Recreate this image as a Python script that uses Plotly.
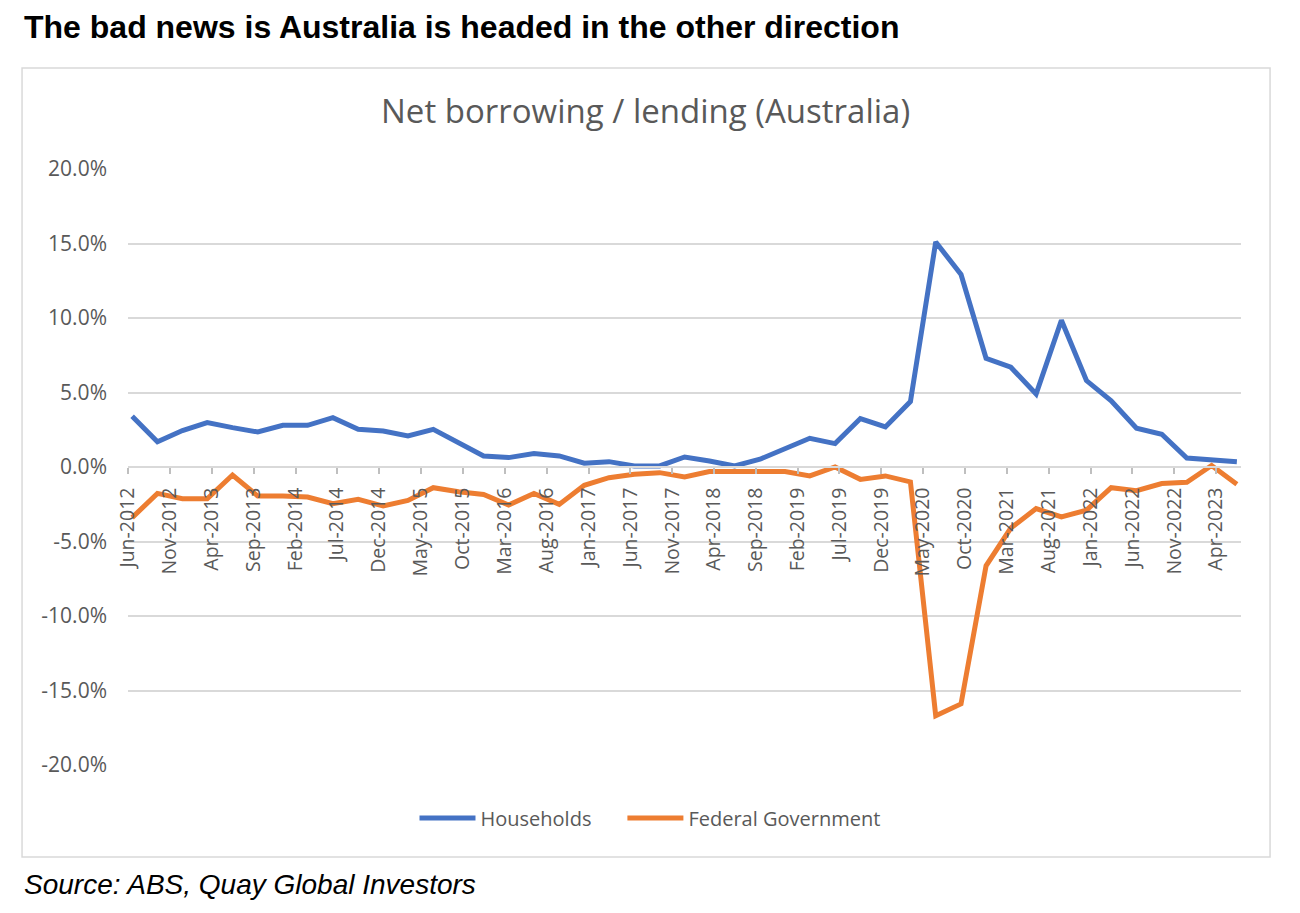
import pandas as pd
import plotly.graph_objects as go

# quarterly observations, Jun-2012 .. Jun-2023
quarters = [
    "2012-06", "2012-09", "2012-12",
    "2013-03", "2013-06", "2013-09", "2013-12",
    "2014-03", "2014-06", "2014-09", "2014-12",
    "2015-03", "2015-06", "2015-09", "2015-12",
    "2016-03", "2016-06", "2016-09", "2016-12",
    "2017-03", "2017-06", "2017-09", "2017-12",
    "2018-03", "2018-06", "2018-09", "2018-12",
    "2019-03", "2019-06", "2019-09", "2019-12",
    "2020-03", "2020-06", "2020-09", "2020-12",
    "2021-03", "2021-06", "2021-09", "2021-12",
    "2022-03", "2022-06", "2022-09", "2022-12",
    "2023-03", "2023-06",
]

households = [3.4, 1.7, 2.45, 2.98, 2.64, 2.35, 2.8, 2.8, 3.31, 2.53, 2.42, 2.08,
              2.53, 1.59, 0.74, 0.63, 0.9, 0.74, 0.25, 0.36, 0.07, 0.07, 0.67, 0.4,
              0.07, 0.52, 1.19, 1.93, 1.57, 3.25, 2.69, 4.39, 15.1, 12.92, 7.3, 6.7,
              4.9, 9.85, 5.8, 4.45, 2.6, 2.2, 0.6, 0.45, 0.35]

federal_gov = [-3.4, -1.77, -2.13, -2.13, -0.54, -1.95, -1.95, -2.02, -2.46, -2.17, -2.62, -2.24,
               -1.39, -1.66, -1.84, -2.55, -1.77, -2.51, -1.23, -0.72, -0.49, -0.38, -0.67, -0.31,
               -0.31, -0.31, -0.31, -0.6, 0.0, -0.83, -0.6, -1.0, -16.7, -15.9, -6.63, -4.1,
               -2.79, -3.35, -2.9, -1.39, -1.59, -1.11, -1.02, 0.1, -1.16]

y_ticks = [-20, -15, -10, -5, 0, 5, 10, 15, 20]
y_labels = ["-20.0%", "-15.0%", "-10.0%", "-5.0%", "0.0%", "5.0%", "10.0%", "15.0%", "20.0%"]

# points sit mid-month, like Excel's date axis
x = pd.to_datetime(quarters) + pd.Timedelta(days=15)

grey = "#595959"
font = "Open Sans"
pad = "\u00a0" * 5  # extra room between the two legend entries

fig = go.Figure()
fig.add_trace(go.Scatter(x=x, y=households, mode="lines", name="Households" + pad,
                         line=dict(color="#4472C4", width=5)))
fig.add_trace(go.Scatter(x=x, y=federal_gov, mode="lines", name="Federal Government",
                         line=dict(color="#ED7D31", width=5)))

# page body has an 8px margin, so the figure is a bit smaller than the window
fig.update_layout(
    width=1292, height=905,
    margin=dict(l=120, r=59, t=161, b=148),
    paper_bgcolor="white", plot_bgcolor="white",
    font=dict(family=font, color=grey, size=20),
    showlegend=True,
    legend=dict(orientation="h", x=0.469, xanchor="center", y=-0.089, yanchor="middle",
                font=dict(size=20, color=grey), itemwidth=56),
    xaxis=dict(
        type="date",
        range=["2012-06-01", "2023-07-01"],
        tick0="2012-06-01", dtick="M5", tickformat="%b-%Y",
        tickangle=-90, ticks="outside", ticklen=6, tickcolor="#bfbfbf", tickwidth=1.5,
        showline=True, linecolor="#d9d9d9", linewidth=1.5,
        showgrid=False, zeroline=False,
        anchor="free", position=0.5,
        ticklabelstandoff=6,
        tickfont=dict(size=19.5, color=grey),
    ),
    yaxis=dict(
        range=[-20, 20], tickvals=y_ticks, ticktext=y_labels,
        showgrid=True, gridcolor="#d9d9d9", gridwidth=1.5,
        zeroline=False, showline=False, ticks="",
        ticklabelstandoff=20,
        tickfont=dict(size=21, color=grey),
    ),
)

# outer chart frame
fig.add_shape(type="rect", xref="paper", yref="paper",
              x0=-0.0952, x1=1.0261, y0=-0.1544, y1=1.1695,
              line=dict(color="#d9d9d9", width=1.5), layer="below")

fig.add_annotation(text="Net borrowing / lending (Australia)", xref="paper", yref="paper",
                   x=0.465, y=1.098, xanchor="center", yanchor="middle", showarrow=False,
                   font=dict(family=font, size=33, color=grey))
fig.add_annotation(text="<b>The bad news is Australia is headed in the other direction</b>",
                   xref="paper", yref="paper", x=-0.0952, y=1.238, xanchor="left",
                   yanchor="middle", showarrow=False,
                   font=dict(family="Liberation Sans", size=32, color="black"))
fig.add_annotation(text="<i>Source: ABS, Quay Global Investors</i>",
                   xref="paper", yref="paper", x=-0.0952, y=-0.2, xanchor="left",
                   yanchor="middle", showarrow=False,
                   font=dict(family="Liberation Sans", size=28, color="black"))

fig.write_html("out.html")
